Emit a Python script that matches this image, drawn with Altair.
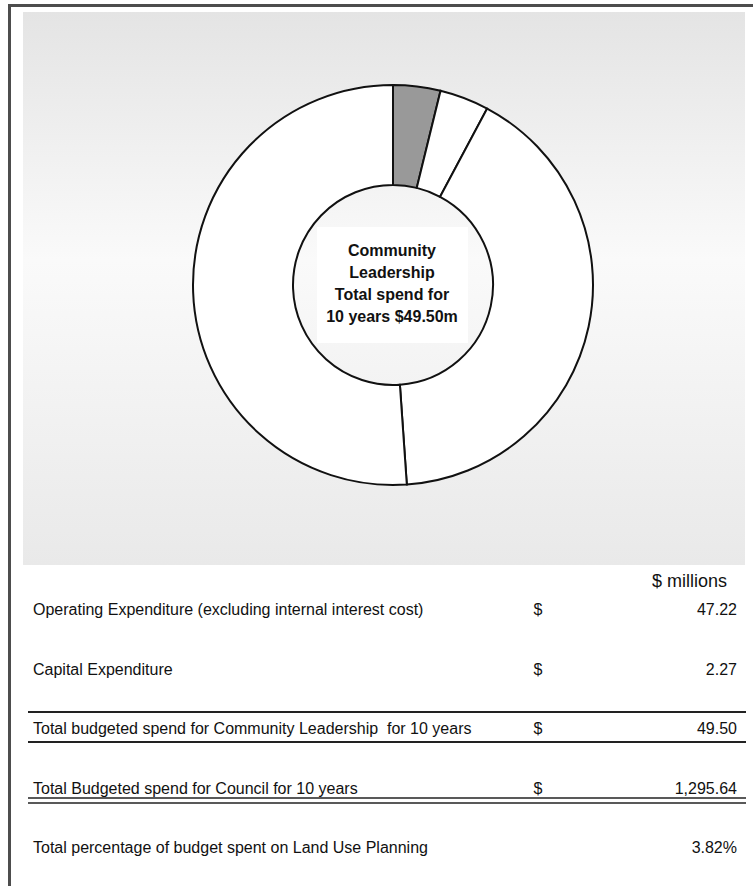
import altair as alt
import pandas as pd

# ---- data -------------------------------------------------------------
segment_names = ["Community Leadership", "Activity B", "Activity C", "Activity D"]
segment_values = [3.82, 3.98, 41.1, 51.1]          # % of council 10-year spend
segment_colors = ["#999999", "#ffffff", "#ffffff", "#ffffff"]

center_lines = ["Community", "Leadership", "Total spend for", "10 years $49.50m"]

header_label = "$ millions"
row_labels = [
    "Operating Expenditure (excluding internal interest cost)",
    "Capital Expenditure",
    "Total budgeted spend for Community Leadership\u00a0 for 10 years",
    "Total Budgeted spend for Council for 10 years",
    "Total percentage of budget spent on Land Use Planning",
]
row_currency = ["$", "$", "$", "$", ""]
row_values = ["47.22", "2.27", "49.50", "1,295.64", "3.82%"]

# ---- build -------------------------------------------------------------
W, H = 753, 886
FONT = "Liberation Sans"

seg_df = pd.DataFrame({"segment": segment_names, "share": segment_values,
                       "idx": list(range(len(segment_names)))})
rows_df = pd.DataFrame({"row": list(range(len(row_labels))), "label": row_labels,
                        "cur": row_currency, "val": row_values})
one = pd.DataFrame({"a": [0]})

frame = alt.Chart(one).mark_rect(fillOpacity=0, stroke="#4d4d4d", strokeWidth=3).encode(
    x=alt.value(9.5), x2=alt.value(820), y=alt.value(5.5), y2=alt.value(920))

gradient = {
    "gradient": "linear", "x1": 0, "y1": 0, "x2": 0, "y2": 1,
    "stops": [
        {"offset": 0, "color": "#e4e4e4"},
        {"offset": 0.45, "color": "#fafafa"},
        {"offset": 1, "color": "#e9e9e9"},
    ],
}
bg = alt.Chart(one).mark_rect(fill=gradient).encode(
    x=alt.value(23), x2=alt.value(745), y=alt.value(12), y2=alt.value(565))

donut = alt.Chart(seg_df).mark_arc(radius=200, radius2=100, stroke="#111111",
                                   strokeWidth=2).encode(
    theta=alt.Theta("share:Q", stack=True),
    color=alt.Color("segment:N", scale=alt.Scale(domain=segment_names, range=segment_colors),
                    legend=None),
    order=alt.Order("idx:Q"),
    x=alt.value(393), y=alt.value(285),
)

textbox = alt.Chart(one).mark_rect(fill="#ffffff").encode(
    x=alt.value(317), x2=alt.value(468), y=alt.value(227), y2=alt.value(343))

center_df = pd.DataFrame({"t": ["\n".join(center_lines)]})
center_text = alt.Chart(center_df).mark_text(
    lineBreak="\n", lineHeight=22, font=FONT, fontSize=16, fontWeight="bold",
    align="center", baseline="middle", color="#111111").encode(
    text="t:N", x=alt.value(392), y=alt.value(251))

header = alt.Chart(pd.DataFrame({"h": [header_label]})).mark_text(
    font=FONT, fontSize=18, align="right", baseline="middle", color="#111111").encode(
    text="h:N", x=alt.value(727), y=alt.value(582))

yrow = alt.Y("row:Q", scale=alt.Scale(domain=[0, 4], range=[610, 848]), axis=None)

labels = alt.Chart(rows_df).mark_text(font=FONT, fontSize=16, align="left",
                                      baseline="middle", color="#111111").encode(
    text="label:N", x=alt.value(33), y=yrow)
curs = alt.Chart(rows_df).mark_text(font=FONT, fontSize=16, align="center",
                                    baseline="middle", color="#111111").encode(
    text="cur:N", x=alt.value(538), y=yrow)
vals = alt.Chart(rows_df).mark_text(font=FONT, fontSize=16, align="right",
                                    baseline="middle", color="#111111").encode(
    text="val:N", x=alt.value(737), y=yrow)


def hline(y, w):
    return alt.Chart(one).mark_rule(color="#222222", strokeWidth=w).encode(
        x=alt.value(28), x2=alt.value(746), y=alt.value(y))


rules = [hline(712, 2), hline(742, 2), hline(798, 1.5), hline(803, 1.5)]

chart = alt.layer(frame, bg, donut, textbox, center_text, header, labels, curs, vals,
                  *rules).properties(
    width=W, height=H, autosize="none", padding=0, background="#ffffff"
).configure_view(stroke=None)

chart.save("out.html", embed_options={"renderer": "svg", "actions": False})
